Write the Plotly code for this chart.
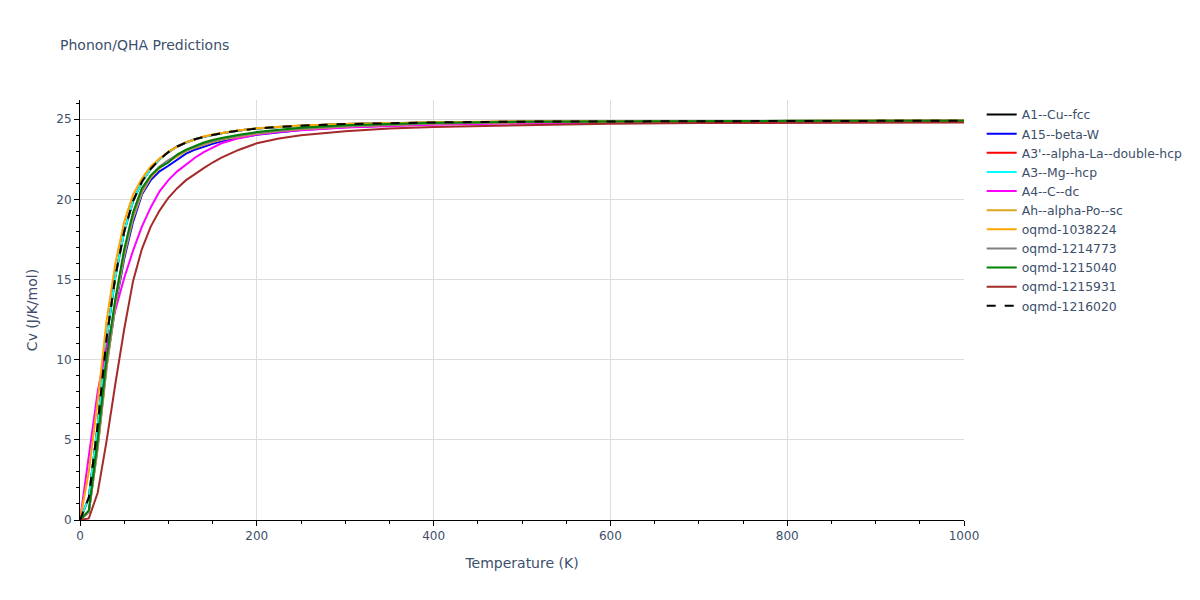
import plotly.graph_objects as go

temperature = [0, 10, 20, 30, 40, 50, 60, 70, 80, 90, 100, 110, 120, 130, 140, 150, 160, 180,
               200, 225, 250, 300, 350, 400, 500, 600, 700, 800, 900, 1000]

cv_a1_cu_fcc = [0, 1.4, 5.9, 11.3, 15.2, 18.0, 19.9, 21.1, 21.9, 22.5, 22.95, 23.3, 23.55, 23.75, 23.9,
                24.03, 24.13, 24.3, 24.42, 24.52, 24.6, 24.7, 24.76, 24.8, 24.85, 24.87, 24.89, 24.9, 24.9, 24.91]
cv_a15_beta_w = [0, 0.5, 4.6, 9.6, 13.3, 16.3, 18.6, 20.3, 21.2, 21.75, 22.1, 22.5, 22.85, 23.1, 23.3,
                 23.47, 23.62, 23.85, 24.03, 24.2, 24.33, 24.5, 24.62, 24.7, 24.79, 24.84, 24.87, 24.88, 24.89, 24.9]
cv_a3p_alpha_la = [0, 1.4, 5.9, 11.3, 15.2, 18.0, 19.9, 21.1, 21.9, 22.5, 22.95, 23.3, 23.55, 23.75, 23.9,
                   24.03, 24.13, 24.3, 24.42, 24.52, 24.6, 24.7, 24.76, 24.8, 24.85, 24.87, 24.89, 24.9, 24.9, 24.91]
cv_a3_mg_hcp = [0, 1.4, 5.9, 11.3, 15.2, 18.0, 19.9, 21.1, 21.9, 22.5, 22.95, 23.3, 23.55, 23.75, 23.9,
                24.03, 24.13, 24.3, 24.42, 24.52, 24.6, 24.7, 24.76, 24.8, 24.85, 24.87, 24.89, 24.9, 24.9, 24.91]
cv_a4_c_dc = [0, 4.1, 8.0, 10.8, 13.1, 15.1, 16.8, 18.3, 19.5, 20.5, 21.2, 21.75, 22.2, 22.6, 22.95,
              23.25, 23.5, 23.82, 24.05, 24.2, 24.32, 24.48, 24.58, 24.65, 24.74, 24.79, 24.83, 24.85, 24.87, 24.88]
cv_ah_alpha_po = [0, 0.5, 4.4, 9.4, 13.4, 16.5, 18.8, 20.4, 21.35, 21.95, 22.35, 22.7, 23.0, 23.22, 23.42,
                  23.58, 23.72, 23.93, 24.1, 24.26, 24.38, 24.55, 24.66, 24.73, 24.81, 24.85, 24.88, 24.89, 24.9, 24.9]
cv_oqmd_1038224 = [0, 3.0, 7.4, 12.4, 16.0, 18.6, 20.3, 21.3, 22.05, 22.55, 22.97, 23.3, 23.56, 23.76, 23.92,
                   24.05, 24.15, 24.31, 24.43, 24.53, 24.61, 24.71, 24.77, 24.81, 24.86, 24.88, 24.9, 24.91, 24.91, 24.92]
cv_oqmd_1214773 = [0, 0.55, 4.6, 9.6, 13.6, 16.7, 19.0, 20.55, 21.45, 22.05, 22.45, 22.78, 23.05, 23.28, 23.47,
                   23.62, 23.76, 23.96, 24.13, 24.28, 24.4, 24.57, 24.67, 24.74, 24.82, 24.86, 24.88, 24.89, 24.9, 24.9]
cv_oqmd_1215040 = [0, 0.6, 5.0, 10.1, 13.8, 16.9, 19.2, 20.7, 21.5, 22.0, 22.3, 22.8, 23.1, 23.35, 23.55,
                   23.7, 23.83, 24.03, 24.2, 24.35, 24.47, 24.62, 24.72, 24.78, 24.84, 24.87, 24.89, 24.9, 24.9, 24.91]
cv_oqmd_1215931 = [0, 0.1, 1.7, 4.9, 8.5, 11.9, 14.9, 16.9, 18.3, 19.3, 20.1, 20.7, 21.2, 21.6, 21.95,
                   22.3, 22.6, 23.1, 23.5, 23.8, 24.0, 24.25, 24.42, 24.52, 24.64, 24.72, 24.76, 24.78, 24.79, 24.8]
cv_oqmd_1216020 = [0, 1.4, 5.9, 11.3, 15.2, 18.0, 19.9, 21.1, 21.9, 22.5, 22.95, 23.3, 23.55, 23.75, 23.9,
                   24.03, 24.13, 24.3, 24.42, 24.52, 24.6, 24.7, 24.76, 24.8, 24.85, 24.87, 24.89, 24.9, 24.9, 24.91]

series_names = ["A1--Cu--fcc", "A15--beta-W", "A3'--alpha-La--double-hcp", "A3--Mg--hcp", "A4--C--dc",
                "Ah--alpha-Po--sc", "oqmd-1038224", "oqmd-1214773", "oqmd-1215040", "oqmd-1215931",
                "oqmd-1216020"]
series_values = [cv_a1_cu_fcc, cv_a15_beta_w, cv_a3p_alpha_la, cv_a3_mg_hcp, cv_a4_c_dc, cv_ah_alpha_po,
                 cv_oqmd_1038224, cv_oqmd_1214773, cv_oqmd_1215040, cv_oqmd_1215931, cv_oqmd_1216020]
series_colors = ["black", "blue", "red", "cyan", "magenta", "goldenrod", "orange", "gray", "green",
                 "brown", "black"]
series_dash = ["solid"] * 10 + ["dash"]

fig = go.Figure()
for name, vals, col, dash in zip(series_names, series_values, series_colors, series_dash):
    fig.add_trace(go.Scatter(x=temperature, y=vals, mode="lines", name=name,
                             line=dict(color=col, width=2, dash=dash)))

axis_common = dict(showline=True, linecolor="black", linewidth=1, ticks="outside", tickcolor="black",
                   ticklen=5, showgrid=True, gridcolor="#dddddd", zeroline=False)
fig.update_layout(
    template="plotly_white",
    width=1200, height=600,
    font=dict(family="DejaVu Sans", size=12, color="#3d4f6b"),
    title=dict(text="Phonon/QHA Predictions", font=dict(size=14), x=0.05, xanchor="left",
               xref="container", y=0.925, yanchor="middle", yref="container"),
    margin=dict(l=80, r=80, t=100, b=80),
    xaxis=dict(title=dict(text="Temperature (K)"), range=[0, 1000], dtick=200,
               minor=dict(ticks="outside", dtick=50, ticklen=3, tickcolor="black"), **axis_common),
    yaxis=dict(title=dict(text="Cv (J/K/mol)"), range=[0, 26.2], dtick=5,
               minor=dict(ticks="outside", dtick=1, ticklen=3, tickcolor="black"), **axis_common),
    legend=dict(font=dict(size=12.4)),
)
fig.write_html("out.html", config={"displayModeBar": False},
               post_script="document.body.style.margin='0';")
